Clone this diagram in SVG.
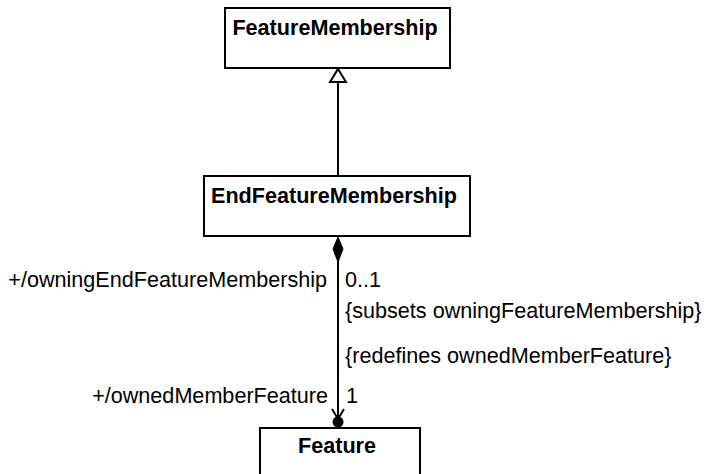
<svg xmlns="http://www.w3.org/2000/svg" width="709" height="474" viewBox="0 0 709 474">
<style>
.box{fill:#fff;stroke:#000;stroke-width:2}
.name{font-family:"Liberation Sans",Arial,sans-serif;font-weight:bold;font-size:21.6px;text-anchor:middle;fill:#000}
.lbl{font-family:"Liberation Sans",Arial,sans-serif;font-size:21.6px;fill:#000}
.ln{stroke:#000;stroke-width:2;fill:none}
</style>
<rect width="709" height="474" fill="#fff"/>
<g id="FeatureMembership">
<rect class="box" x="225" y="8" width="225" height="60"/>
<text class="name" x="335" y="35">FeatureMembership</text>
</g>
<g id="EndFeatureMembership">
<rect class="box" x="204" y="176" width="266" height="60"/>
<text class="name" x="334" y="203">EndFeatureMembership</text>
</g>
<g id="Feature">
<rect class="box" x="260" y="428" width="160" height="60"/>
<text class="name" x="337" y="453">Feature</text>
</g>
<g id="connectors">
<line class="ln" x1="338" y1="82" x2="338" y2="176"/>
<polygon points="338,69 346,82 330,82" fill="#fff" stroke="#000" stroke-width="2"/>
<line class="ln" x1="338" y1="260" x2="338" y2="418"/>
<polygon points="338,237 343,249 338,262 333,249" fill="#000" stroke="#000" stroke-width="1"/>
<polyline class="ln" points="332,409 338,419 344,409"/>
<circle cx="338" cy="422" r="5.5" fill="#000"/>
<text class="lbl" x="327" y="287" text-anchor="end">+/owningEndFeatureMembership</text>
<text class="lbl" x="345" y="287">0..1</text>
<text class="lbl" x="345" y="318">{subsets owningFeatureMembership}</text>
<text class="lbl" x="345" y="363">{redefines ownedMemberFeature}</text>
<text class="lbl" x="328" y="403" text-anchor="end">+/ownedMemberFeature</text>
<text class="lbl" x="346" y="403">1</text>
</g>
</svg>
